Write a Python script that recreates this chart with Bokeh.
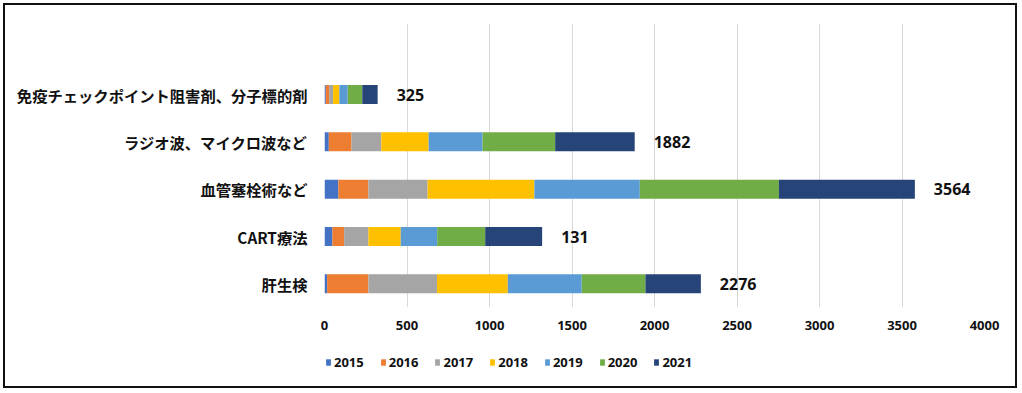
from bokeh.plotting import figure
from bokeh.layouts import column
from bokeh.models import (ColumnDataSource, FactorRange, Range1d, FixedTicker,
                          Legend, LegendItem)
from bokeh.core.properties import value
from bokeh.embed import file_html
from bokeh.resources import INLINE

# ---- data (bottom to top) ----
categories = ["肝生検", "CART療法", "血管塞栓術など", "ラジオ波、マイクロ波など",
              "免疫チェックポイント阻害剤、分子標的剤"]
years = ["2015", "2016", "2017", "2018", "2019", "2020", "2021"]
v2015 = [16, 48, 84, 26, 8]
v2016 = [250, 71, 182, 138, 20]
v2017 = [416, 147, 359, 180, 24]
v2018 = [429, 196, 647, 287, 38]
v2019 = [448, 221, 639, 327, 51]
v2020 = [386, 291, 843, 440, 88]
v2021 = [336, 345, 824, 482, 93]
total_labels = ["2276", "131", "3564", "1882", "325"]
x_ticks = [0, 500, 1000, 1500, 2000, 2500, 3000, 3500, 4000]
colors = ["#4472C4", "#ED7D31", "#A5A5A5", "#FFC000", "#5B9BD5", "#70AD47", "#264478"]

series = [v2015, v2016, v2017, v2018, v2019, v2020, v2021]
data = {"cat": categories}
for y, vals in zip(years, series):
    data[y] = vals
data["total"] = [sum(t) for t in zip(*series)]
data["label"] = total_labels
source = ColumnDataSource(data)

factors = categories + [" "]
BORDER = "2px solid #111111"

# ---- main chart ----
p = figure(width=1014, height=337, y_range=FactorRange(factors=factors, range_padding=0),
           x_range=Range1d(0, 4000), output_backend="svg", toolbar_location=None,
           min_border_left=319, min_border_right=35, min_border_top=18,
           min_border_bottom=35)
p.styles = {"border-left": BORDER, "border-right": BORDER, "border-top": BORDER}
p.outline_line_color = None

p.hbar_stack(years, y="cat", height=0.4, color=colors, source=source, line_color=None)

p.text(x="total", y="cat", text="label", source=source, x_offset=19,
       text_align="left", text_baseline="middle", text_font=value("Open Sans"),
       text_font_size="16px", text_font_style="bold", text_color="#111111")

p.xaxis.ticker = FixedTicker(ticks=x_ticks)
p.xgrid.ticker = FixedTicker(ticks=x_ticks)
p.xgrid.grid_line_color = "#d9d9d9"
p.ygrid.grid_line_color = None
for ax in (p.xaxis, p.yaxis):
    ax.axis_line_color = None
    ax.major_tick_line_color = None
    ax.minor_tick_line_color = None
    ax.major_tick_out = 0
    ax.major_tick_in = 0
p.xaxis.major_label_text_font = "Open Sans"
p.xaxis.major_label_text_font_style = "bold"
p.xaxis.major_label_text_font_size = "13px"
p.xaxis.major_label_text_color = "#111111"
p.xaxis.major_label_standoff = 13
p.yaxis.major_label_text_font = "Noto Sans CJK JP"
p.yaxis.major_label_text_font_style = "bold"
p.yaxis.major_label_text_font_size = "15.3px"
p.yaxis.major_label_text_color = "#111111"
p.yaxis.major_label_standoff = 17

# ---- legend strip (series renderers kept hidden; they only feed the legend) ----
p2 = figure(width=1014, height=48, x_range=Range1d(0, 4000),
            y_range=FactorRange(factors=factors, range_padding=0),
            output_backend="svg", toolbar_location=None,
            min_border_left=0, min_border_right=0, min_border_top=0, min_border_bottom=0)
p2.styles = {"border-left": BORDER, "border-right": BORDER, "border-bottom": BORDER}
p2.axis.visible = False
p2.grid.visible = False
p2.outline_line_color = None
legend_renderers = p2.hbar_stack(years, y="cat", height=0.4, color=colors, source=source,
                                 line_color=None)
for r in legend_renderers:
    r.visible = False
legend = Legend(items=[LegendItem(label=yr, renderers=[r])
                       for yr, r in zip(years, legend_renderers)],
                orientation="horizontal", location=(1, 17))
legend.padding = 0
legend.margin = 0
legend.spacing = 16
legend.glyph_width = 6
legend.glyph_height = 8
legend.label_standoff = 3
legend.label_text_font = "Open Sans"
legend.label_text_font_style = "bold"
legend.label_text_font_size = "13px"
legend.label_text_color = "#111111"
legend.border_line_color = None
legend.background_fill_alpha = 0
legend.inactive_fill_alpha = 0
p2.add_layout(legend)

layout = column(p, p2, spacing=0, margin=(3, 0, 0, 3))

open("out.html", "w").write(file_html(layout, INLINE))
